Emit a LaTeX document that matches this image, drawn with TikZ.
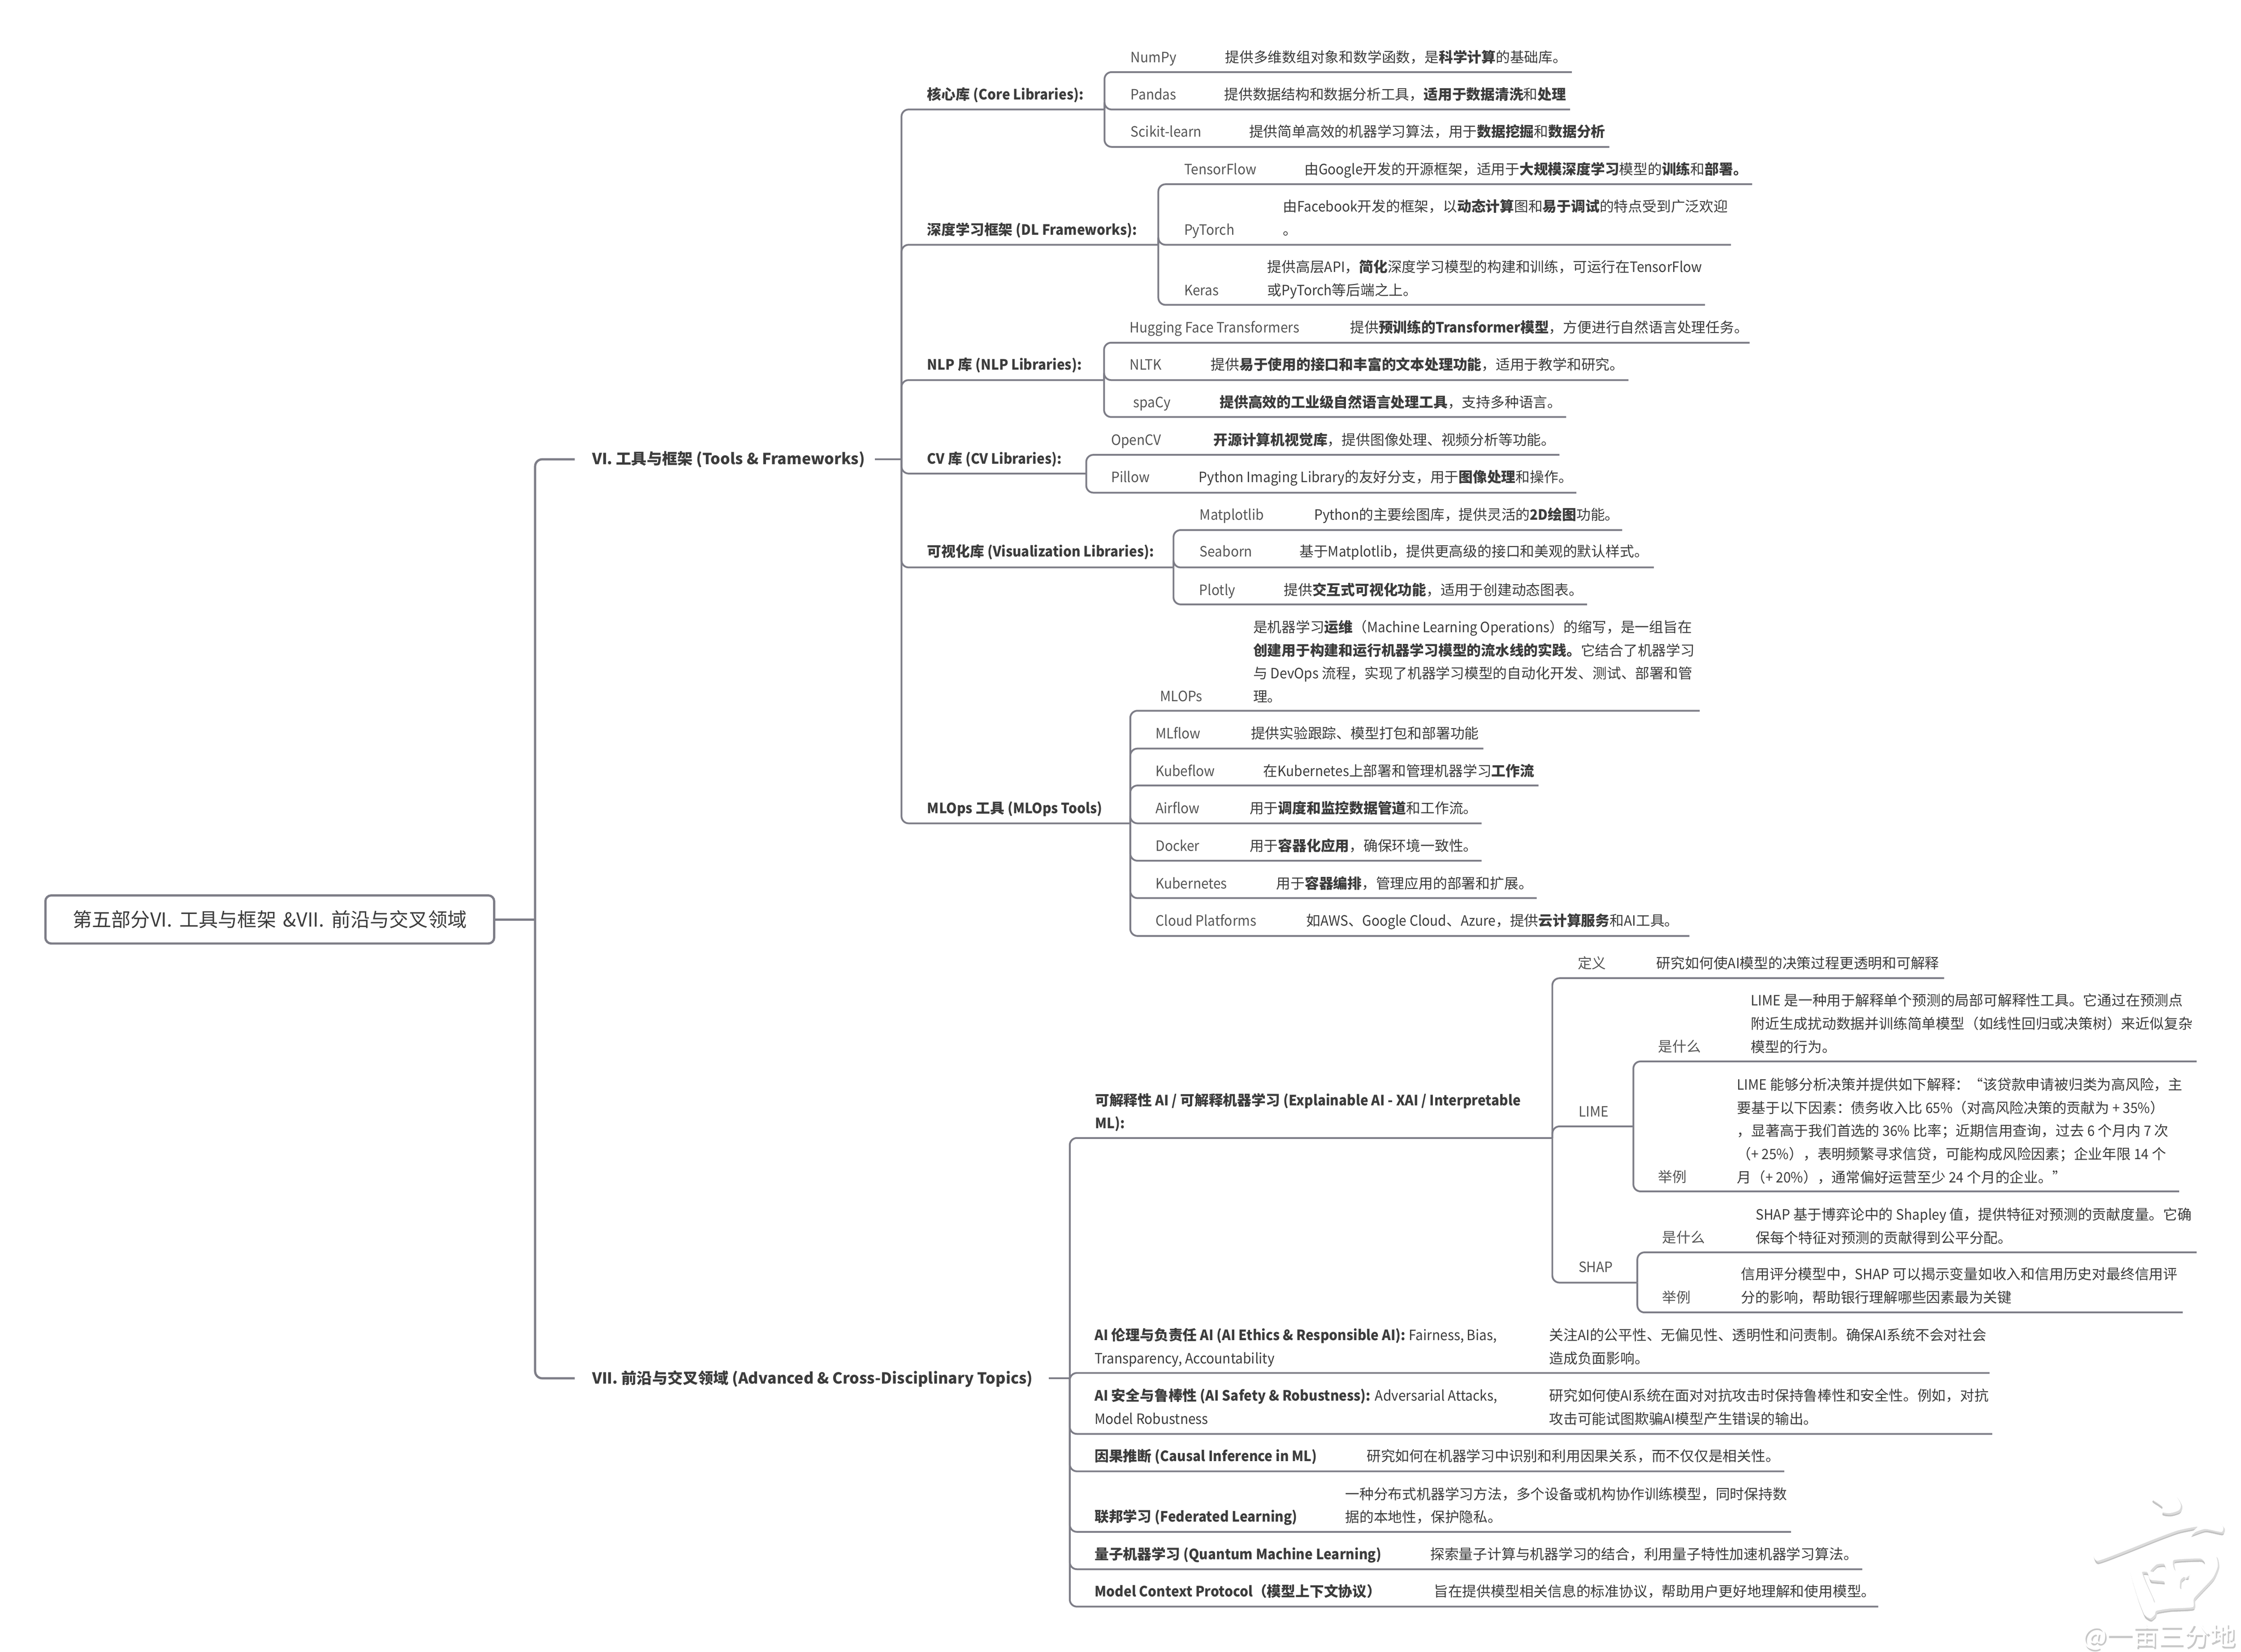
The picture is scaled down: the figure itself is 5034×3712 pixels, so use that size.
\documentclass[tikz,border=0pt]{standalone}
\usepackage{fontspec}
\setmainfont{Noto Sans CJK SC}
\newfontfamily\ltnf[FakeStretch=0.94]{Noto Sans CJK SC}
\newcommand\ltn[1]{{\ltnf #1}}
\newcommand\szb{\fontsize{6.4}{10.4}\selectfont}
\definecolor{lnk}{HTML}{7D7D87}
\definecolor{ink}{HTML}{3C3C3C}
\definecolor{ink2}{HTML}{555555}
\tikzset{
  tx/.style={anchor=north west,inner sep=0pt,align=left,font=\szb,text=ink,yshift=5.8pt},
  tg/.style={tx,text=ink2,font=\szb\ltnf},
  tc/.style={tx,text=ink2},
  th/.style={tx,font=\fontsize{6.88}{10.4}\selectfont},
  conn/.style={draw=lnk,line width=0.8pt,rounded corners=3.2pt,line cap=butt},
  rootbox/.style={draw=lnk,line width=1pt,rounded corners=2.6pt,fill=white,minimum width=201.6pt,minimum height=21.6pt,inner sep=0pt,font=\fontsize{8.7}{10}\selectfont,text=ink},
}
\newcommand\lbl[5][tx]{\node[#1] (#2) at (#3,#4) {\rule{0pt}{8pt}#5};}
\newcommand\conn[4]{\coordinate (e#1) at (#3,#4); \draw[conn] (#2) |- (e#1);}
\begin{document}
\begin{tikzpicture}[x=0.2pt,y=-0.2pt]
\fill[white] (0,0) rectangle (5034,3712);
\useasboundingbox (0,0) rectangle (5034,3712);

% root
\node[rootbox] (root) at (606,2066) {第五部分VI.\hspace{1.2pt} 工具与框架 \hspace{1.2pt}\&VII.\hspace{1.2pt} 前沿与交叉领域};
\coordinate (jroot) at (1202,2066);
\draw[conn,line width=1pt] (root.east) -- (jroot);
\lbl[th]{vi}{1329}{1032}{\textbf{VI. 工具与框架 (Tools \& Frameworks)}}
\lbl[th]{vii}{1329}{3097}{\textbf{VII. 前沿与交叉领域 (Advanced \& Cross-Disciplinary Topics)}}
\coordinate (evi) at (1291,1032);
\coordinate (evii) at (1291,3097);
\draw[conn,line width=1pt] (jroot) |- (evi);
\draw[conn,line width=1pt] (jroot) |- (evii);

% VI trunk
\coordinate (svi) at (1965,1032); \coordinate (jvi) at (2025,1032);
\draw[conn] (svi) -- (jvi);
\conn{core}{jvi}{2481}{246}
\conn{dl}{jvi}{2602}{550}
\conn{nlp}{jvi}{2480}{854}
\conn{cv}{jvi}{2440}{1064}
\conn{viz}{jvi}{2636}{1275}
\conn{mlo}{jvi}{2539}{1850}

\lbl{lcore}{2082}{212}{\textbf{核心库 \ltn{(Core Libraries):}}}
\lbl[tg]{numpy}{2539}{128}{NumPy}
\lbl{dnumpy}{2751}{128}{提供多维数组对象和数学函数，是\textbf{科学计算}的基础库。}
\conn{numpy}{ecore}{3531}{162}
\lbl[tg]{pandas}{2539}{212}{Pandas}
\lbl{dpandas}{2749}{212}{提供数据结构和数据分析工具，\textbf{适用于数据清洗}和\textbf{处理}}
\conn{pandas}{ecore}{3527}{246}
\lbl[tg]{scikit}{2539}{296}{Scikit-learn}
\lbl{dscikit}{2805}{296}{提供简单高效的机器学习算法，用于\textbf{数据挖掘}和\textbf{数据分析}}
\conn{scikit}{ecore}{3615}{330}

\lbl{ldl}{2082}{516}{\textbf{深度学习框架 \ltn{(DL Frameworks):}}}
\lbl[tg]{tf}{2659}{380}{TensorFlow}
\lbl{dtf}{2929}{380}{由\ltn{Google}开发的开源框架，适用于\textbf{大规模深度学习}模型的\textbf{训练}和\textbf{部署。}}
\conn{tf}{edl}{3936}{414}
\lbl[tg]{pt}{2659}{516}{PyTorch}
\lbl{dpt}{2881}{464}{由\ltn{Facebook}开发的框架，以\textbf{动态计算}图和\textbf{易于调试}的特点受到广泛欢迎\\。}
\conn{pt}{edl}{3888}{550}
\lbl[tg]{keras}{2659}{652}{Keras}
\lbl{dkeras}{2846}{600}{提供高层\ltn{API}，\textbf{简化}深度学习模型的构建和训练，可运行在\ltn{TensorFlow}\\或\ltn{PyTorch}等后端之上。}
\conn{keras}{edl}{3830}{685}

\lbl{lnlp}{2082}{819}{\textbf{\ltn{NLP} 库 \ltn{(NLP Libraries):}}}
\lbl[tg]{hf}{2537}{736}{Hugging Face Transformers}
\lbl{dhf}{3032}{736}{提供\textbf{预训练的\ltn{Transformer}模型}，方便进行自然语言处理任务。}
\conn{hf}{enlp}{3930}{770}
\lbl[tg]{nltk}{2537}{819}{NLTK}
\lbl{dnltk}{2719}{819}{提供\textbf{易于使用的接口和丰富的文本处理功能}，适用于教学和研究。}
\conn{nltk}{enlp}{3658}{854}
\lbl[tg]{spacy}{2545}{904}{spaCy}
\lbl{dspacy}{2739}{904}{\textbf{提供高效的工业级自然语言处理工具}，支持多种语言。}
\conn{spacy}{enlp}{3518}{937}

\lbl{lcv}{2082}{1030}{\textbf{\ltn{CV} 库 \ltn{(CV Libraries):}}}
\lbl[tg]{opencv}{2495}{988}{OpenCV}
\lbl{dopencv}{2725}{988}{\textbf{开源计算机视觉库}，提供图像处理、视频分析等功能。}
\conn{opencv}{ecv}{3503}{1022}
\lbl[tg]{pillow}{2495}{1072}{Pillow}
\lbl{dpillow}{2692}{1072}{\ltn{Python Imaging Library}的友好分支，用于\textbf{图像处理}和操作。}
\conn{pillow}{ecv}{3541}{1107}

\lbl{lviz}{2082}{1239}{\textbf{可视化库 \ltn{(Visualization Libraries):}}}
\lbl[tg]{mpl}{2694}{1156}{Matplotlib}
\lbl{dmpl}{2951}{1156}{\ltn{Python}的主要绘图库，提供灵活的\textbf{\ltn{2D}绘图}功能。}
\conn{mpl}{eviz}{3644}{1191}
\lbl[tg]{sb}{2694}{1239}{Seaborn}
\lbl{dsb}{2918}{1239}{基于\ltn{Matplotlib}，提供更高级的接口和美观的默认样式。}
\conn{sb}{eviz}{3715}{1275}
\lbl[tg]{plotly}{2693}{1325}{Plotly}
\lbl{dplotly}{2883}{1325}{提供\textbf{交互式可视化功能}，适用于创建动态图表。}
\conn{plotly}{eviz}{3565}{1358}

\lbl{lmlo}{2082}{1816}{\textbf{\ltn{MLOps} 工具 \ltn{(MLOps Tools)}}}
\lbl[tg]{mlops}{2605}{1564}{MLOPs}
\lbl{dmlops}{2814}{1409}{是机器学习\textbf{运维}（\ltn{Machine Learning Operations}）的缩写，是一组旨在\\\textbf{创建用于构建和运行机器学习模型的流水线的实践。}它结合了机器学习\\与 \ltn{DevOps} 流程，实现了机器学习模型的自动化开发、测试、部署和管\\理。}
\conn{mlops}{emlo}{3818}{1597}
\lbl[tg]{mlflow}{2595}{1648}{MLflow}
\lbl{dmlflow}{2809}{1648}{提供实验跟踪、模型打包和部署功能}
\conn{mlflow}{emlo}{3332}{1682}
\lbl[tg]{kubeflow}{2595}{1732}{Kubeflow}
\lbl{dkubeflow}{2837}{1732}{在\ltn{Kubernetes}上部署和管理机器学习\textbf{工作流}}
\conn{kubeflow}{emlo}{3456}{1765}
\lbl[tg]{airflow}{2595}{1816}{Airflow}
\lbl{dairflow}{2806}{1816}{用于\textbf{调度和监控数据管道}和工作流。}
\conn{airflow}{emlo}{3328}{1850}
\lbl[tg]{docker}{2595}{1900}{Docker}
\lbl{ddocker}{2806}{1900}{用于\textbf{容器化应用}，确保环境一致性。}
\conn{docker}{emlo}{3328}{1934}
\lbl[tg]{k8s}{2595}{1985}{Kubernetes}
\lbl{dk8s}{2866}{1985}{用于\textbf{容器编排}，管理应用的部署和扩展。}
\conn{k8s}{emlo}{3452}{2018}
\lbl[tg]{cloud}{2595}{2068}{Cloud Platforms}
\lbl{dcloud}{2933}{2068}{如\ltn{AWS}、\ltn{Google Cloud}、\ltn{Azure}，提供\textbf{云计算服务}和\ltn{AI}工具。}
\conn{cloud}{emlo}{3795}{2103}

% VII trunk
\coordinate (svii) at (2356,3097); \coordinate (jvii) at (2403,3097);
\draw[conn] (svii) -- (jvii);
\lbl{lxai}{2459}{2472}{\textbf{可解释性 \ltn{AI /} 可解释机器学习 \ltn{(Explainable AI - XAI / Interpretable}}\\\textbf{\ltn{ML):}}}
\conn{xai}{jvii}{3487}{2557}
\lbl[tc]{defn}{3543}{2164}{定义}
\lbl{ddefn}{3720}{2164}{研究如何使\ltn{AI}模型的决策过程更透明和可解释}
\conn{defn}{exai}{4367}{2198}
\lbl[tg]{lime}{3545}{2497}{LIME}
\conn{lime}{exai}{3669}{2531}
\lbl[tc]{lw}{3724}{2351}{是什么}
\lbl{dlw}{3932}{2248}{\ltn{LIME} 是一种用于解释单个预测的局部可解释性工具。它通过在预测点\\附近生成扰动数据并训练简单模型（如线性回归或决策树）来近似复杂\\模型的行为。}
\conn{lw}{elime}{4934}{2385}
\lbl[tc]{le}{3724}{2644}{举例}
\lbl{dle}{3901}{2437}{\ltn{LIME} 能够分析决策并提供如下解释：\ltn{“}该贷款申请被归类为高风险，主\\要基于以下因素：债务收入比 \ltn{65\%}（对高风险决策的贡献为 \ltn{+ 35\%}）\\，显著高于我们首选的 \ltn{36\%} 比率；近期信用查询，过去 \ltn{6} 个月内 \ltn{7} 次\\（\ltn{+ 25\%}），表明频繁寻求信贷，可能构成风险因素；企业年限 \ltn{14} 个\\月（\ltn{+ 20\%}），通常偏好运营至少 \ltn{24} 个月的企业。\ltn{”}}
\conn{le}{elime}{4895}{2677}
\lbl[tg]{shap}{3545}{2847}{SHAP}
\conn{shap}{exai}{3678}{2882}
\lbl[tc]{sw}{3733}{2780}{是什么}
\lbl{dsw}{3943}{2729}{\ltn{SHAP} 基于博弈论中的 \ltn{Shapley} 值，提供特征对预测的贡献度量。它确\\保每个特征对预测的贡献得到公平分配。}
\conn{sw}{eshap}{4934}{2814}
\lbl[tc]{se}{3733}{2915}{举例}
\lbl{dse}{3910}{2863}{信用评分模型中，\ltn{SHAP} 可以揭示变量如收入和信用历史对最终信用评\\分的影响，帮助银行理解哪些因素最为关键}
\conn{se}{eshap}{4903}{2949}

\lbl{leth}{2458}{3000}{\textbf{\ltn{AI} 伦理与负责任 \ltn{AI (AI Ethics \& Responsible AI):}} \ltn{Fairness, Bias,}\\\ltn{Transparency, Accountability}}
\lbl{deth}{3479}{3000}{关注\ltn{AI}的公平性、无偏见性、透明性和问责制。确保\ltn{AI}系统不会对社会\\造成负面影响。}
\conn{eth}{jvii}{4469}{3085}
\lbl{lsaf}{2458}{3136}{\textbf{\ltn{AI} 安全与鲁棒性 \ltn{(AI Safety \& Robustness):}} \ltn{Adversarial Attacks,}\\\ltn{Model Robustness}}
\lbl{dsaf}{3479}{3136}{研究如何使\ltn{AI}系统在面对对抗攻击时保持鲁棒性和安全性。例如，对抗\\攻击可能试图欺骗\ltn{AI}模型产生错误的输出。}
\conn{saf}{jvii}{4475}{3222}
\lbl{lcau}{2458}{3272}{\textbf{因果推断 \ltn{(Causal Inference in ML)}}}
\lbl{dcau}{3069}{3272}{研究如何在机器学习中识别和利用因果关系，而不仅仅是相关性。}
\conn{cau}{jvii}{4008}{3306}
\lbl{lfed}{2458}{3408}{\textbf{联邦学习 \ltn{(Federated Learning)}}}
\lbl{dfed}{3021}{3357}{一种分布式机器学习方法，多个设备或机构协作训练模型，同时保持数\\据的本地性，保护隐私。}
\conn{fed}{jvii}{4023}{3442}
\lbl{lqua}{2458}{3492}{\textbf{量子机器学习 \ltn{(Quantum Machine Learning)}}}
\lbl{dqua}{3212}{3492}{探索量子计算与机器学习的结合，利用量子特性加速机器学习算法。}
\conn{qua}{jvii}{4183}{3526}
\lbl{lmcp}{2458}{3576}{\textbf{\ltn{Model Context Protocol}（模型上下文协议）}}
\lbl{dmcp}{3220}{3576}{旨在提供模型相关信息的标准协议，帮助用户更好地理解和使用模型。}
\conn{mcp}{jvii}{4219}{3610}

% watermark
\begin{scope}[shift={(4500,3250)},x=0.0681pt,y=-0.0681pt]
\def\wm{
 plot[smooth cycle,tension=.5] coordinates {(978,340)(1060,305)(1130,320)(1170,380)(1160,420)(1100,440)(1045,432)(1050,400)(1020,375)}
 plot[smooth cycle,tension=.35] coordinates {(590,700)(610,650)(650,625)(670,640)(800,615)(1000,540)(1200,480)(1300,462)(1400,480)(1450,530)(1440,565)(1330,545)(1235,575)(1280,530)(1150,555)(1000,610)(800,690)(620,755)}
 plot[smooth cycle,tension=.35] coordinates {(830,790)(855,765)(900,785)(1000,760)(1150,720)(1300,680)(1400,720)(1415,790)(1380,870)(1260,1000)(1250,1060)(1100,1070)(1010,1085)(1000,1110)(970,1135)(930,1110)(890,1010)(850,880)}
 plot[smooth cycle,tension=.3] coordinates {(970,825)(1010,780)(1060,775)(1075,820)(1060,830)}
 plot[smooth cycle,tension=.3] coordinates {(1125,750)(1300,740)(1330,770)(1320,790)(1210,860)(1130,815)}
 plot[smooth cycle,tension=.3] coordinates {(915,830)(950,830)(970,880)(1060,890)(1060,930)(1000,1030)(985,1000)(940,900)}
 plot[smooth cycle,tension=.3] coordinates {(1170,880)(1225,835)(1225,870)(1190,945)(1165,935)}
}
\begin{scope}[shift={(6,22)}]\fill[black!24,even odd rule] \wm;\end{scope}
\begin{scope}[shift={(10,12)}]\fill[black!14,even odd rule] \wm;\end{scope}
\fill[white,even odd rule] \wm;
\end{scope}
\node[anchor=center,inner sep=0pt,font=\fontsize{11.6}{12}\selectfont,text=black!22] (wms) at (4853,3682) {@一亩三分地};
\node[anchor=center,inner sep=0pt,font=\fontsize{11.6}{12}\selectfont,text=white] (wmt) at (4850,3677) {@一亩三分地};
\end{tikzpicture}
\end{document}
